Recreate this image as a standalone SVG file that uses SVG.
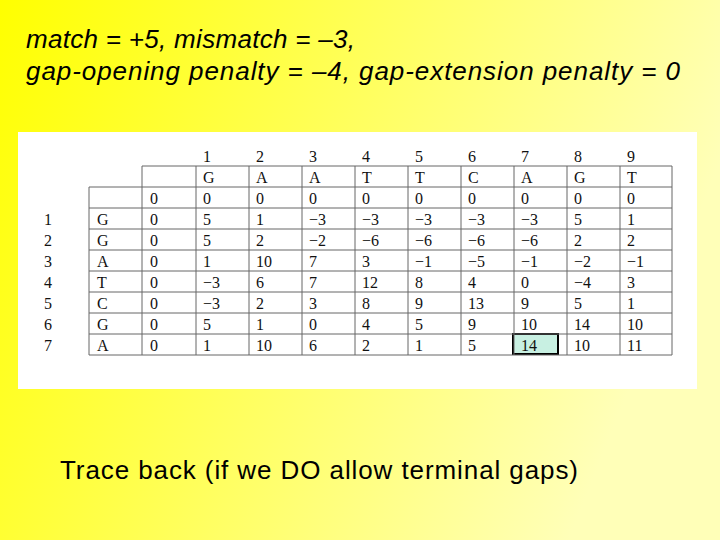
<svg xmlns="http://www.w3.org/2000/svg" width="720" height="540" viewBox="0 0 720 540">
<defs>
<linearGradient id="bg" x1="0" y1="0" x2="1" y2="0.3">
<stop offset="0" stop-color="#ffff00"/><stop offset="1" stop-color="#ffffb8"/>
</linearGradient>
<style>
.t{font-family:"Liberation Sans",Arial,sans-serif;font-size:26px;fill:#000}
.c{font-family:"Liberation Serif","DejaVu Serif",serif;font-size:16px;fill:#111}
.g{stroke:#666;stroke-width:1;fill:none}
</style>
</defs>
<rect width="720" height="540" fill="url(#bg)"/>
<g id="title">
<text class="t" x="26" y="48" font-style="italic" textLength="329" lengthAdjust="spacing">match = +5, mismatch = –3,</text>
<text class="t" x="26" y="80" font-style="italic" textLength="654" lengthAdjust="spacing">gap-opening penalty = –4, gap-extension penalty = 0</text>
</g>
<g id="table">
<rect x="18" y="132" width="679" height="257" fill="#fff"/>
<rect x="513" y="334" width="45" height="20" fill="#c8f0e2" stroke="#000" stroke-width="2"/>
<g class="g">
<path d="M142 166H672M89 187H672M89 208H672M89 229H672M89 250H672M89 271H672M89 292H672M89 313H672M89 334H672M89 355H672"/>
<path d="M89 187V355M142 166V355M196 166V355M249 166V355M302 166V355M355 166V355M408 166V355M461 166V355M514 166V355M567 166V355M620 166V355M672 166V355"/>
</g>
<g class="c">
<text y="162"><tspan x="203">1</tspan><tspan x="256">2</tspan><tspan x="309">3</tspan><tspan x="362">4</tspan><tspan x="415">5</tspan><tspan x="468">6</tspan><tspan x="521">7</tspan><tspan x="574">8</tspan><tspan x="627">9</tspan></text>
<text y="183"><tspan x="203">G</tspan><tspan x="256">A</tspan><tspan x="309">A</tspan><tspan x="362">T</tspan><tspan x="415">T</tspan><tspan x="468">C</tspan><tspan x="521">A</tspan><tspan x="574">G</tspan><tspan x="627">T</tspan></text>
<text y="204"><tspan x="150">0</tspan><tspan x="203">0</tspan><tspan x="256">0</tspan><tspan x="309">0</tspan><tspan x="362">0</tspan><tspan x="415">0</tspan><tspan x="468">0</tspan><tspan x="521">0</tspan><tspan x="574">0</tspan><tspan x="627">0</tspan></text>
<text y="225"><tspan x="44">1</tspan><tspan x="97">G</tspan><tspan x="150">0</tspan><tspan x="203">5</tspan><tspan x="256">1</tspan><tspan x="309">−3</tspan><tspan x="362">−3</tspan><tspan x="415">−3</tspan><tspan x="468">−3</tspan><tspan x="521">−3</tspan><tspan x="574">5</tspan><tspan x="627">1</tspan></text>
<text y="246"><tspan x="44">2</tspan><tspan x="97">G</tspan><tspan x="150">0</tspan><tspan x="203">5</tspan><tspan x="256">2</tspan><tspan x="309">−2</tspan><tspan x="362">−6</tspan><tspan x="415">−6</tspan><tspan x="468">−6</tspan><tspan x="521">−6</tspan><tspan x="574">2</tspan><tspan x="627">2</tspan></text>
<text y="267"><tspan x="44">3</tspan><tspan x="97">A</tspan><tspan x="150">0</tspan><tspan x="203">1</tspan><tspan x="256">10</tspan><tspan x="309">7</tspan><tspan x="362">3</tspan><tspan x="415">−1</tspan><tspan x="468">−5</tspan><tspan x="521">−1</tspan><tspan x="574">−2</tspan><tspan x="627">−1</tspan></text>
<text y="288"><tspan x="44">4</tspan><tspan x="97">T</tspan><tspan x="150">0</tspan><tspan x="203">−3</tspan><tspan x="256">6</tspan><tspan x="309">7</tspan><tspan x="362">12</tspan><tspan x="415">8</tspan><tspan x="468">4</tspan><tspan x="521">0</tspan><tspan x="574">−4</tspan><tspan x="627">3</tspan></text>
<text y="309"><tspan x="44">5</tspan><tspan x="97">C</tspan><tspan x="150">0</tspan><tspan x="203">−3</tspan><tspan x="256">2</tspan><tspan x="309">3</tspan><tspan x="362">8</tspan><tspan x="415">9</tspan><tspan x="468">13</tspan><tspan x="521">9</tspan><tspan x="574">5</tspan><tspan x="627">1</tspan></text>
<text y="330"><tspan x="44">6</tspan><tspan x="97">G</tspan><tspan x="150">0</tspan><tspan x="203">5</tspan><tspan x="256">1</tspan><tspan x="309">0</tspan><tspan x="362">4</tspan><tspan x="415">5</tspan><tspan x="468">9</tspan><tspan x="521">10</tspan><tspan x="574">14</tspan><tspan x="627">10</tspan></text>
<text y="351"><tspan x="44">7</tspan><tspan x="97">A</tspan><tspan x="150">0</tspan><tspan x="203">1</tspan><tspan x="256">10</tspan><tspan x="309">6</tspan><tspan x="362">2</tspan><tspan x="415">1</tspan><tspan x="468">5</tspan><tspan x="521">14</tspan><tspan x="574">10</tspan><tspan x="627">11</tspan></text>
</g>
</g>
<g id="caption">
<text class="t" x="60" y="479" textLength="518" lengthAdjust="spacing">Trace back (if we DO allow terminal gaps)</text>
</g>
</svg>
